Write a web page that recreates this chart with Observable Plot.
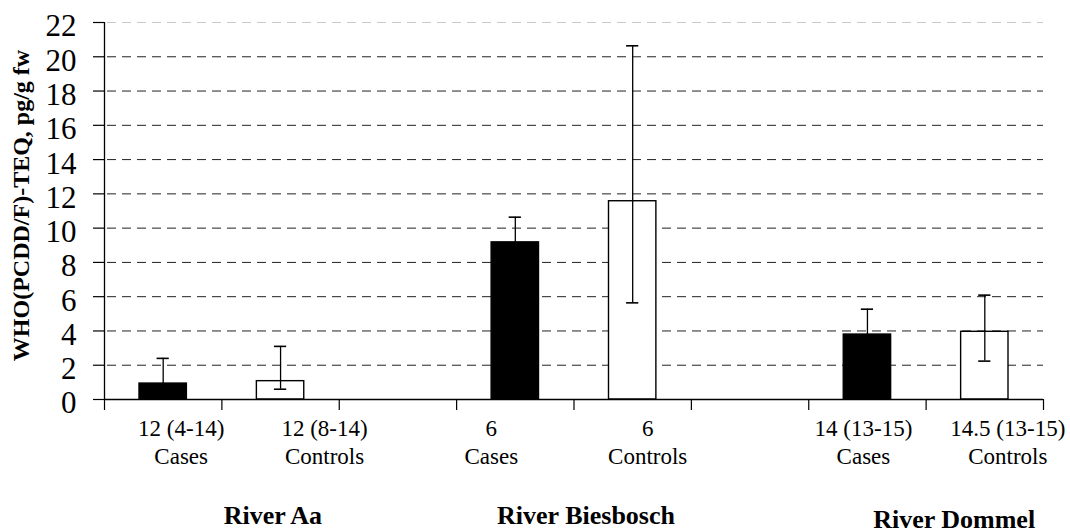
<!DOCTYPE html>
<html><head><meta charset="utf-8">
<script src="https://cdn.jsdelivr.net/npm/d3@7"></script>
<script src="https://cdn.jsdelivr.net/npm/@observablehq/plot@0.6"></script>
<style>html,body{margin:0;padding:0;background:#fff;}</style>
</head><body><div id="chart"></div>
<script>
// ---- data ----
const rivers = ["River Aa", "River Biesbosch", "River Dommel"];
const groupsPerRiver = ["Cases", "Controls"];
const ageLabels = ["12 (4-14)", "12 (8-14)", "6", "6", "14 (13-15)", "14.5 (13-15)"];
const meanTEQ = [0.93, 1.07, 9.17, 11.57, 3.79, 3.95];
const lowTEQ  = [0.1, 0.6, 7.7, 5.64, 2.31, 2.24];
const highTEQ = [2.4, 3.1, 10.64, 20.64, 5.27, 6.09];
const yTicks = [0, 2, 4, 6, 8, 10, 12, 14, 16, 18, 20, 22];
const yLabel = "WHO(PCDD/F)-TEQ, pg/g fw";

// ---- layout ----
const W = 1070, H = 532, ML = 104, MR = 27, MT = 22, MB = 133;
const slotsPerRiver = 3;
const nSlots = rivers.length * slotsPerRiver - 1;
const labelShift = [18, 44, -24, 15, -4, 23];
const riverShift = [51, 12, 28];
const riverDy = [124, 124, 128];
const capHalf = 0.052;
const font = "'Liberation Serif', 'Times New Roman', serif";

const rows = meanTEQ.map((v, i) => {
  const r = Math.floor(i / 2), k = i % 2;
  return {i, river: rivers[r], group: groupsPerRiver[k], age: ageLabels[i],
          slot: r * slotsPerRiver + k, value: v, lo: lowTEQ[i], hi: highTEQ[i]};
});
const riverRows = rivers.map((name, r) => ({name, r, pos: r * slotsPerRiver + 1}));

const labelMarks = rows.flatMap((d, i) => [
  Plot.text([d], {x: e => e.slot + 0.5, y: () => 0, text: "age", dy: 36, dx: labelShift[i],
    lineAnchor: "bottom", fontSize: 23, fill: "#000"}),
  Plot.text([d], {x: e => e.slot + 0.5, y: () => 0, text: "group", dy: 64, dx: labelShift[i],
    lineAnchor: "bottom", fontSize: 23, fill: "#000"})
]);
const riverMarks = riverRows.map((d, r) =>
  Plot.text([d], {x: "pos", y: () => 0, text: "name", dy: riverDy[r], dx: riverShift[r],
    lineAnchor: "bottom", fontSize: 26, fontWeight: "bold", fill: "#000"})
);

const chart = Plot.plot({
  width: W, height: H,
  marginLeft: ML, marginRight: MR, marginTop: MT, marginBottom: MB,
  style: {fontFamily: font, background: "#fff", color: "#000"},
  x: {domain: [0, nSlots], axis: null},
  y: {domain: [0, 22], axis: null},
  color: {type: "identity"},
  marks: [
    Plot.ruleY(yTicks.filter(t => t > 0 && t < 22), {stroke: "#222", strokeWidth: 1, strokeDasharray: "9,6", strokeDashoffset: -3}),
    Plot.ruleY([22], {stroke: "#c8c8c8", strokeWidth: 1.2, strokeDasharray: "9,6", strokeDashoffset: -3}),
    Plot.rect(rows, {x1: "slot", x2: d => d.slot + 1, y1: () => 0, y2: "value",
      insetLeft: 35, insetRight: 35,
      fill: d => d.group === "Cases" ? "#000" : "#fff", stroke: "#000", strokeWidth: 1.4}),
    Plot.ruleX(rows, {x: d => d.slot + 0.5, y1: "lo", y2: "hi", stroke: "#000", strokeWidth: 1.3}),
    Plot.ruleY(rows, {y: "hi", x1: d => d.slot + 0.5 - capHalf, x2: d => d.slot + 0.5 + capHalf, stroke: "#000", strokeWidth: 1.6}),
    Plot.ruleY(rows, {y: "lo", x1: d => d.slot + 0.5 - capHalf, x2: d => d.slot + 0.5 + capHalf, stroke: "#000", strokeWidth: 1.6}),
    Plot.axisY({ticks: yTicks, tickSize: 11, tickFormat: () => "", label: null, stroke: "#000", strokeWidth: 1.2}),
    Plot.text(yTicks, {x: () => 0, y: d => d, text: d => String(d), textAnchor: "end", dx: -28, dy: 4,
      fontSize: 31, fill: "#000"}),
    Plot.axisX({ticks: d3.range(0, nSlots + 1), tickSize: 11, tickFormat: () => "", label: null, stroke: "#000", strokeWidth: 1.2}),
    Plot.ruleY([0], {stroke: "#000", strokeWidth: 1.3}),
    Plot.ruleX([0], {y1: 0, y2: 22, stroke: "#000", strokeWidth: 1.3}),
    ...labelMarks,
    ...riverMarks,
    Plot.text([yLabel], {frameAnchor: "left", text: d => d, rotate: -90, textAnchor: "middle",
      dx: -83, dy: -5.5, fontSize: 24, fontWeight: "bold", fill: "#000"})
  ]
});
document.getElementById("chart").appendChild(chart);
</script>
</body></html>
